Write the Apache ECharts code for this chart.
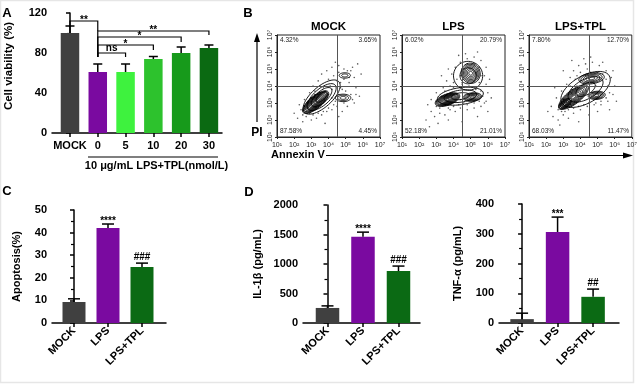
<!DOCTYPE html>
<html><head><meta charset="utf-8">
<script src="https://cdn.jsdelivr.net/npm/echarts@6/dist/echarts.min.js"></script>
<style>html,body{margin:0;padding:0;background:#fff}#c{width:640px;height:385px}</style>
</head><body><div id="c"></div>
<script>
// ---------- Panel A: cell viability ----------
const catA = ['MOCK', '0', '5', '10', '20', '30'];
const valA = [100, 61, 61, 74, 80, 85];
const errA = [7, 8, 8, 2.5, 6, 3];
const colA = ['#404040', '#7a0aa0', '#3ef23e', '#2dc22d', '#179a1b', '#0b6a12'];
// brackets: [fromIndex, toIndex, height, leftLegEnd, rightLegEnd]
const brA = [[0, 1, 112, 106, 102], [1, 2, 80, 76, 76], [1, 3, 88, 76, 83], [1, 4, 96, 76, 91], [1, 5, 102, 76, 98]];
const brLabA = ['**', 'ns', '*', '*', '**'];

// ---------- Panel C: apoptosis ----------
const catC = ['MOCK', 'LPS', 'LPS+TPL'];
const valC = [9.3, 42, 24.8];
const errC = [1.4, 1.8, 1.7];
const sigC = ['', '****', '###'];

// ---------- Panel D: cytokines ----------
const valIL = [255, 1460, 880];
const errIL = [35, 80, 85];
const sigIL = ['', '****', '###'];
const valTNF = [13, 306, 88];
const errTNF = [20, 50, 26];
const sigTNF = ['', '***', '##'];
const colCD = ['#404040', '#7a0aa0', '#0b6a14'];

// ---------- Panel B: flow cytometry (log10 units) ----------
const fcTitles = ['MOCK', 'LPS', 'LPS+TPL'];
const fcQuad = [['4.32%', '3.65%', '87.58%', '4.45%'], ['6.02%', '20.79%', '52.18%', '21.01%'], ['7.80%', '12.70%', '68.03%', '11.47%']];
const gateX = 4.5, gateY = 4;
const fcTicks = [1, 2, 3, 4, 5, 6, 7];
// contour clusters: [centerX, centerY, radiusX, radiusY, angleDeg, levels]
const contF1 = [[3.25, 3.05, 0.95, 0.36, 40, 12], [3.6, 3.35, 1.35, 0.6, 42, 4], [4.85, 3.3, 0.45, 0.22, 0, 3], [4.95, 4.62, 0.33, 0.16, 0, 2]];
const contF2 = [[3.65, 3.2, 0.75, 0.33, 20, 11], [5.1, 3.35, 0.55, 0.25, 5, 6], [5.0, 4.75, 0.55, 0.6, 20, 7], [4.4, 3.4, 1.35, 0.5, 8, 3], [4.85, 4.6, 0.85, 0.85, 20, 2]];
const contF3 = [[3.6, 3.35, 1.05, 0.4, 38, 9], [3.1, 2.95, 0.45, 0.22, 38, 6], [4.95, 3.45, 0.5, 0.24, 5, 5], [4.65, 4.45, 0.75, 0.32, 8, 5], [4.3, 3.8, 1.6, 0.8, 30, 3]];
const dotsF1 = [[2.2,2.1],[2.5,1.9],[2.4,2.6],[2.7,2.2],[3.0,2.0],[3.3,2.1],[3.6,2.3],[3.9,2.5],[4.2,2.6],[4.5,2.8],[2.6,3.2],[2.9,3.6],[3.1,4.0],[3.4,4.3],[3.6,4.7],[3.9,4.9],[4.2,5.1],[4.6,5.2],[4.9,5.0],[5.3,4.9],[5.5,4.5],[5.2,4.2],[4.5,4.3],[4.3,4.6],[4.0,4.4],[5.6,3.9],[5.8,3.4],[5.5,3.0],[5.1,2.8],[4.8,2.5],[3.7,3.9],[4.1,4.0],[4.7,3.9],[5.0,3.7],[5.4,5.1],[5.7,5.3],[4.4,5.4],[3.2,3.7],[2.3,2.9],[2.0,2.4],[3.8,1.8],[4.6,2.2],[5.9,4.7],[5.3,3.5],
  [2.5,2.3],[2.7,2.5],[2.6,2.8],[2.8,3.1],[3.0,3.3],[3.2,3.5],[3.5,3.6],[3.8,3.7],[4.0,3.5],[4.2,3.3],[4.4,3.1],[4.3,2.9],[4.0,2.7],[3.7,2.5],[3.4,2.4],[3.1,2.3],[2.9,2.4],[4.6,3.5],[4.8,3.8],[4.7,4.2],[4.9,4.4],[5.2,4.5],[5.1,4.9],[4.6,4.8],[5.4,3.2],[5.6,3.5],[4.9,3.0],[2.8,2.7],[3.5,4.0],[4.2,3.8]];
const dotsF2 = [[2.7,2.5],[2.9,2.2],[3.2,2.4],[3.5,2.3],[3.8,2.6],[4.1,2.5],[4.4,2.7],[4.8,2.6],[5.2,2.7],[5.6,2.8],[5.9,3.1],[6.0,3.6],[5.9,4.1],[5.8,4.6],[5.9,5.1],[5.6,5.5],[5.2,5.7],[4.8,5.6],[4.4,5.4],[4.1,5.1],[3.9,4.7],[3.6,4.3],[3.4,3.9],[3.0,3.6],[2.7,3.2],[2.5,2.9],[3.3,4.6],[3.7,5.0],[4.3,5.8],[4.7,5.9],[5.4,6.0],[6.1,4.4],[6.2,3.3],[2.4,2.0],[3.1,1.8],[4.5,1.9],[5.4,2.2],[3.7,2.0],[2.6,1.6],[6.0,2.5],[4.0,3.9],[4.5,4.1],
  [3.0,2.8],[3.2,2.7],[3.0,3.1],[3.3,3.4],[3.6,3.5],[3.9,3.6],[4.2,3.5],[4.4,3.2],[4.3,2.9],[4.0,2.8],[3.7,2.7],[4.6,3.0],[4.8,2.9],[5.2,3.0],[5.5,3.1],[5.7,3.4],[5.6,3.7],[5.3,3.8],[4.5,4.2],[4.4,4.6],[4.5,5.0],[4.8,5.3],[5.2,5.3],[5.5,5.1],[5.6,4.6],[5.5,4.2],[4.2,4.4],[4.0,4.2],[3.8,4.0],[3.5,3.7],[5.8,3.0],[4.9,4.0]];
const dotsF3 = [[2.4,2.2],[2.7,2.0],[3.0,2.3],[3.3,2.1],[3.6,2.4],[4.0,2.6],[4.4,2.8],[4.8,2.9],[5.2,2.9],[5.6,3.1],[5.9,3.5],[6.0,4.0],[5.8,4.5],[5.5,4.9],[5.1,5.2],[4.7,5.4],[4.3,5.3],[3.9,5.2],[3.6,4.9],[3.4,4.5],[3.2,4.1],[2.9,3.7],[2.6,3.3],[2.3,2.8],[3.8,4.6],[4.2,5.6],[4.6,5.7],[5.3,5.4],[5.9,4.9],[6.1,3.1],[2.1,2.5],[2.8,1.7],[3.9,1.9],[4.5,2.3],[5.0,2.5],[3.0,4.9],[3.5,5.5],[5.7,2.6],[2.5,3.9],[4.9,4.0],
  [2.7,2.6],[2.9,2.5],[2.8,2.9],[3.0,3.2],[3.3,3.5],[3.5,3.8],[3.8,4.0],[4.0,4.3],[4.3,4.6],[4.6,4.8],[5.0,4.8],[5.3,4.7],[5.5,4.4],[5.6,4.0],[5.7,3.6],[5.5,3.3],[5.2,3.1],[4.9,3.0],[4.5,3.0],[4.2,2.9],[3.9,2.8],[3.6,2.7],[3.3,2.6],[3.1,2.5],[4.0,4.8],[3.7,4.4],[3.4,4.0],[4.4,5.0],[5.1,4.4],[4.7,3.6]];

// ---------- build ----------
const FF = '"Liberation Sans", Arial, Helvetica, sans-serif';
const sup = ['\u2070', '\u00B9', '\u00B2', '\u00B3', '\u2074', '\u2075', '\u2076', '\u2077'];
const grids = [], xAxes = [], yAxes = [], series = [], graphics = [];

function sigText(s, x, yTop) {
  const star = s.indexOf('*') >= 0;
  return { type: 'text', style: { text: s, x: x, y: star ? yTop - 3 : yTop - 1, align: 'center', verticalAlign: star ? 'middle' : 'bottom', font: 'bold 10px ' + FF, fill: '#000' } };
}

function barPanel(o) {
  const g = grids.length;
  grids.push({ left: o.left, top: o.top, width: o.width, height: o.height });
  const idx = o.cats.map((c, i) => i);
  xAxes.push({ gridIndex: g, type: 'value', min: o.xmin, max: o.xmax,
    axisLine: { show: true, onZero: false, lineStyle: { color: '#000', width: 1.5 } },
    splitLine: { show: false },
    axisTick: { show: true, customValues: idx, length: 4, lineStyle: { color: '#000', width: 1.5 } },
    axisLabel: { show: true, customValues: idx, formatter: v => o.cats[Math.round(v)], rotate: o.rotate || 0,
      fontSize: 11, fontWeight: 'bold', color: '#000', margin: o.margin, fontFamily: FF } });
  yAxes.push({ gridIndex: g, type: 'value', min: 0, max: o.ymax, interval: o.interval,
    name: o.yname, nameLocation: 'middle', nameGap: o.nameGap,
    nameTextStyle: { fontSize: o.nameSize || 11, fontWeight: 'bold', color: '#000', fontFamily: FF, padding: o.namePad || 0 },
    axisLine: { show: true, lineStyle: { color: '#000', width: 1.5 } },
    axisTick: { show: true, length: 4, lineStyle: { color: '#000', width: 1.5 } },
    minorTick: { show: true, splitNumber: 2, length: 3, lineStyle: { color: '#000', width: 1.2 } },
    splitLine: { show: false }, minorSplitLine: { show: false },
    axisLabel: { fontSize: 11, fontWeight: 'bold', color: '#000', margin: 5, fontFamily: FF, formatter: v => String(v) } });
  series.push({ type: 'bar', xAxisIndex: g, yAxisIndex: g, barWidth: o.barW, silent: true,
    data: o.vals.map((v, i) => ({ value: [i, v], itemStyle: { color: o.colors[i] } })) });
  series.push({ type: 'custom', xAxisIndex: g, yAxisIndex: g, silent: true, z: 5, encode: { x: 0, y: 1 },
    data: o.vals.map((v, i) => [i, v, o.errs[i]]),
    renderItem: (p, api) => {
      const i = api.value(0), v = api.value(1), e = api.value(2);
      const a = api.coord([i, v]), b = api.coord([i, v + e]);
      const ch = [
        { type: 'line', shape: { x1: a[0], y1: a[1], x2: b[0], y2: b[1] }, style: { stroke: '#000', lineWidth: 1.5 } },
        { type: 'line', shape: { x1: b[0] - o.capW / 2, y1: b[1], x2: b[0] + o.capW / 2, y2: b[1] }, style: { stroke: '#000', lineWidth: 1.5 } }
      ];
      const s = o.sig ? o.sig[p.dataIndex] : '';
      if (s) ch.push(sigText(s, b[0], b[1]));
      return { type: 'group', children: ch };
    } });
  return g;
}

const gA = barPanel({ left: 52, top: 13, width: 170, height: 120, xmin: -0.647, xmax: 5.47, cats: catA, vals: valA, errs: errA,
  colors: colA, barW: 18.5, capW: 9, ymax: 120, interval: 40, yname: 'Cell viability (%)', nameGap: 37, nameSize: 11.5, namePad: [0, 0, 0, 14], margin: 7 });
series.push({ type: 'custom', xAxisIndex: gA, yAxisIndex: gA, silent: true, z: 6, encode: { x: 0, y: 2 }, data: brA,
  renderItem: (p, api) => {
    const x1 = api.value(0), x2 = api.value(1), y = api.value(2);
    const a = api.coord([x1, y]), b = api.coord([x2, y]);
    const a2 = api.coord([x1, api.value(3)]), b2 = api.coord([x2, api.value(4)]);
    const lab = brLabA[p.dataIndex];
    const star = lab.indexOf('*') >= 0;
    return { type: 'group', children: [
      { type: 'polyline', shape: { points: [a2, a, b, b2] }, style: { stroke: '#000', lineWidth: 1.2, fill: 'none' } },
      { type: 'text', style: { text: lab, x: (a[0] + b[0]) / 2, y: star ? a[1] - 1 : a[1] + 0.5, align: 'center',
        verticalAlign: star ? 'middle' : 'bottom', font: 'bold 10px ' + FF, fill: '#000' } }
    ] };
  } });

barPanel({ left: 52, top: 210, width: 114, height: 113, xmin: -0.647, xmax: 2.706, cats: catC, vals: valC, errs: errC,
  colors: colCD, barW: 23, capW: 12, ymax: 50, interval: 10, yname: 'Apoptosis(%)', nameGap: 30, rotate: 45, margin: 6, sig: sigC });
barPanel({ left: 303, top: 205, width: 117, height: 118, xmin: -0.69, xmax: 2.606, cats: catC, vals: valIL, errs: errIL,
  colors: colCD, barW: 23.5, capW: 12, ymax: 2000, interval: 500, yname: 'IL-1β (pg/mL)', nameGap: 40, rotate: 45, margin: 6, sig: sigIL });
barPanel({ left: 499, top: 204, width: 120, height: 119, xmin: -0.65, xmax: 2.73, cats: catC, vals: valTNF, errs: errTNF,
  colors: colCD, barW: 23.5, capW: 12, ymax: 400, interval: 100, yname: 'TNF-α (pg/mL)', nameGap: 36, rotate: 45, margin: 6, sig: sigTNF });

function contourItem(p, api) {
  const cx = Math.log10(api.value(0)), cy = Math.log10(api.value(1));
  const rx = api.value(2), ry = api.value(3), ang = api.value(4) * Math.PI / 180, lv = api.value(5);
  const ch = [];
  for (let k = 1; k <= lv; k++) {
    const f = Math.pow(k / lv, 0.85);
    const pts = [];
    for (let t = 0; t < 48; t++) {
      const th = t / 48 * 2 * Math.PI;
      const ex = rx * f * Math.cos(th), ey = ry * f * Math.sin(th);
      const lx = cx + ex * Math.cos(ang) - ey * Math.sin(ang);
      const ly = cy + ex * Math.sin(ang) + ey * Math.cos(ang);
      pts.push(api.coord([Math.pow(10, lx), Math.pow(10, ly)]));
    }
    ch.push({ type: 'polygon', shape: { points: pts }, style: { fill: 'none', stroke: '#000', lineWidth: 0.9 } });
  }
  return { type: 'group', children: ch };
}

const fcLefts = [277, 402, 529];
const fcConts = [contF1, contF2, contF3];
const fcDots = [dotsF1, dotsF2, dotsF3];
const FT = 35, FW = 103, FH = 102;
fcTitles.forEach((title, j) => {
  const g = grids.length;
  const L = fcLefts[j];
  grids.push({ left: L, top: FT, width: FW, height: FH, show: true, borderColor: '#222', borderWidth: 1, backgroundColor: 'rgba(0,0,0,0)' });
  const tv = fcTicks.map(e => Math.pow(10, e));
  const lab = v => '10' + sup[Math.round(Math.log10(v))];
  const axBase = { gridIndex: g, type: 'log', logBase: 10, min: 10, max: 1e7, splitLine: { show: false },
    axisLine: { show: true, onZero: false, lineStyle: { color: '#222', width: 1 } },
    axisTick: { show: true, customValues: tv, length: 2, lineStyle: { color: '#222', width: 1 } } };
  xAxes.push(Object.assign({}, axBase, { axisLabel: { customValues: tv, formatter: lab, fontSize: 7, color: '#222', margin: 5, fontFamily: FF } }));
  yAxes.push(Object.assign({}, axBase, { axisLabel: { customValues: tv, formatter: lab, fontSize: 7, color: '#222', margin: 3, rotate: 90, fontFamily: FF } }));
  series.push({ type: 'scatter', xAxisIndex: g, yAxisIndex: g, silent: true, symbolSize: 1.6, itemStyle: { color: '#333' },
    data: fcDots[j].map(d => [Math.pow(10, d[0]), Math.pow(10, d[1])]),
    markLine: { silent: true, symbol: 'none', label: { show: false }, lineStyle: { color: '#555', width: 1, type: 'solid' },
      data: [{ xAxis: Math.pow(10, gateX) }, { yAxis: Math.pow(10, gateY) }] } });
  series.push({ type: 'custom', xAxisIndex: g, yAxisIndex: g, silent: true, z: 4, encode: { x: 0, y: 1 },
    data: fcConts[j].map(c => [Math.pow(10, c[0]), Math.pow(10, c[1]), c[2], c[3], c[4], c[5]]), renderItem: contourItem });
  graphics.push({ type: 'text', style: { text: title, x: L + FW / 2, y: 27, align: 'center', verticalAlign: 'middle', font: 'bold 11.5px ' + FF, fill: '#000' } });
  const q = fcQuad[j];
  const qs = 'normal 6.5px ' + FF;
  graphics.push({ type: 'text', style: { text: q[0], x: L + 3, y: FT + 5.5, align: 'left', verticalAlign: 'middle', font: qs, fill: '#222' } });
  graphics.push({ type: 'text', style: { text: q[1], x: L + FW - 3, y: FT + 5.5, align: 'right', verticalAlign: 'middle', font: qs, fill: '#222' } });
  graphics.push({ type: 'text', style: { text: q[2], x: L + 3, y: FT + FH - 6, align: 'left', verticalAlign: 'middle', font: qs, fill: '#222' } });
  graphics.push({ type: 'text', style: { text: q[3], x: L + FW - 3, y: FT + FH - 6, align: 'right', verticalAlign: 'middle', font: qs, fill: '#222' } });
});

// annotations / labels
const PL = 'bold 13px ' + FF;
graphics.push(
  { type: 'rect', shape: { x: 0.5, y: 0.5, width: 633, height: 382 }, style: { fill: 'none', stroke: '#e6e6e6', lineWidth: 1.5 } },
  { type: 'text', style: { text: 'A', x: 7, y: 13, align: 'center', verticalAlign: 'middle', font: PL, fill: '#000' } },
  { type: 'text', style: { text: 'B', x: 248, y: 13, align: 'center', verticalAlign: 'middle', font: PL, fill: '#000' } },
  { type: 'text', style: { text: 'C', x: 7, y: 191, align: 'center', verticalAlign: 'middle', font: PL, fill: '#000' } },
  { type: 'text', style: { text: 'D', x: 249, y: 192, align: 'center', verticalAlign: 'middle', font: PL, fill: '#000' } },
  { type: 'line', shape: { x1: 88, y1: 157, x2: 218, y2: 157 }, style: { stroke: '#000', lineWidth: 1.2 } },
  { type: 'text', style: { text: '10 μg/mL LPS+TPL(nmol/L)', x: 156.5, y: 165.5, align: 'center', verticalAlign: 'middle', font: 'bold 11px ' + FF, fill: '#000' } },
  { type: 'line', shape: { x1: 257, y1: 122, x2: 257, y2: 40 }, style: { stroke: '#000', lineWidth: 1.2 } },
  { type: 'polygon', shape: { points: [[257, 33], [254, 42], [260, 42]] }, style: { fill: '#000' } },
  { type: 'text', style: { text: 'PI', x: 257, y: 133, align: 'center', verticalAlign: 'middle', font: 'bold 12px ' + FF, fill: '#000' } },
  { type: 'text', style: { text: 'Annexin V', x: 271, y: 155, align: 'left', verticalAlign: 'middle', font: 'bold 11px ' + FF, fill: '#000' } },
  { type: 'line', shape: { x1: 326, y1: 155.5, x2: 624, y2: 155.5 }, style: { stroke: '#000', lineWidth: 1.2 } },
  { type: 'polygon', shape: { points: [[633, 155.5], [623, 152.5], [623, 158.5]] }, style: { fill: '#000' } }
);

const chart = echarts.init(document.getElementById('c'), null, { renderer: 'canvas' });
chart.setOption({
  animation: false,
  backgroundColor: '#ffffff',
  textStyle: { fontFamily: FF },
  grid: grids, xAxis: xAxes, yAxis: yAxes, series: series, graphic: graphics
});
</script></body></html>
